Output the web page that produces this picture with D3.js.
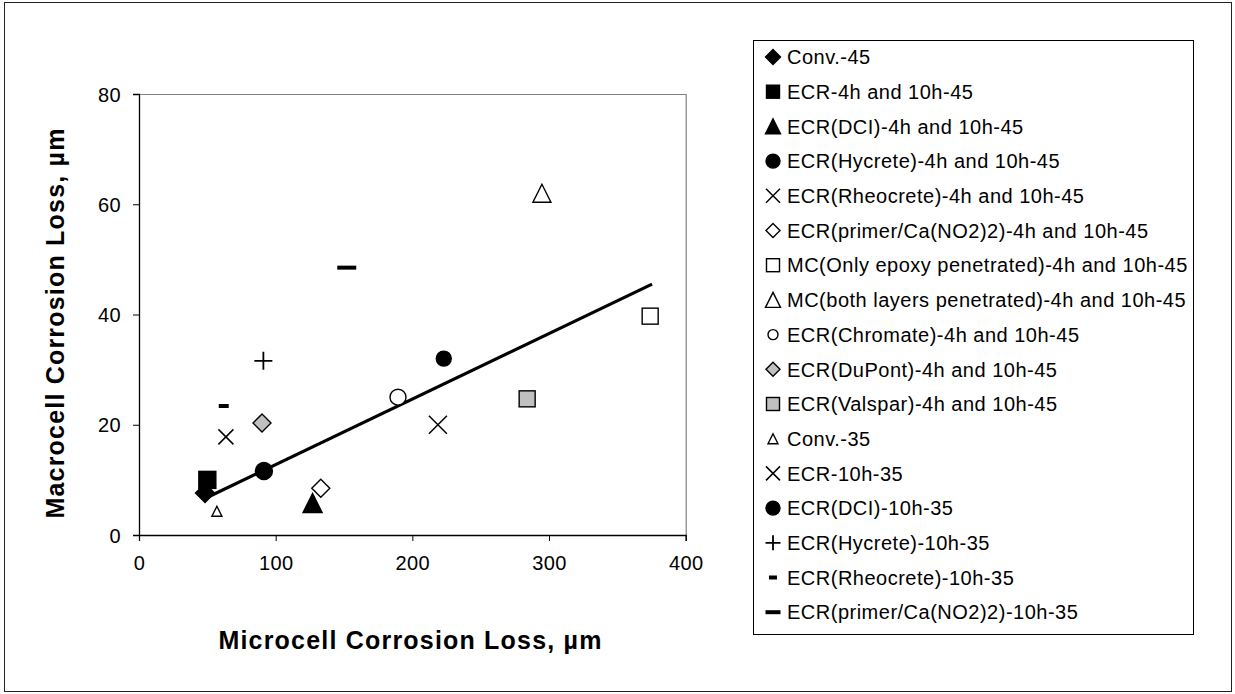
<!DOCTYPE html>
<html>
<head>
<meta charset="utf-8">
<script src="https://cdn.jsdelivr.net/npm/d3@7"></script>
<style>
  html, body { margin: 0; padding: 0; background: #fff; }
  svg { display: block; font-family: "Liberation Sans", Arial, sans-serif; }
</style>
</head>
<body>
<svg id="chart" width="1235" height="694"></svg>
<script>
// ---------- data ----------
const seriesNames = [
  "Conv.-45",
  "ECR-4h and 10h-45",
  "ECR(DCI)-4h and 10h-45",
  "ECR(Hycrete)-4h and 10h-45",
  "ECR(Rheocrete)-4h and 10h-45",
  "ECR(primer/Ca(NO2)2)-4h and 10h-45",
  "MC(Only epoxy penetrated)-4h and 10h-45",
  "MC(both layers penetrated)-4h and 10h-45",
  "ECR(Chromate)-4h and 10h-45",
  "ECR(DuPont)-4h and 10h-45",
  "ECR(Valspar)-4h and 10h-45",
  "Conv.-35",
  "ECR-10h-35",
  "ECR(DCI)-10h-35",
  "ECR(Hycrete)-10h-35",
  "ECR(Rheocrete)-10h-35",
  "ECR(primer/Ca(NO2)2)-10h-35"
];
const microcellLoss = [48.3, 50, 127, 91.4, 218.7, 133, 374, 294.8, 189.5, 90, 284, 57, 63.6, 223, 91, 62, 152];
const macrocellLoss = [7.6, 10, 5.8, 11.6, 20, 8.5, 39.7, 62, 25, 20.3, 24.7, 4.3, 17.8, 32, 31.6, 23.4, 48.5];
const trendX = [49, 375.4];
const trendY = [6.7, 45.5];
const xTicks = [0, 100, 200, 300, 400];
const yTicks = [0, 20, 40, 60, 80];
const xTitle = "Microcell Corrosion Loss, µm";
const yTitle = "Macrocell Corrosion Loss, µm";

// ---------- marker styles (shape, fill, plot size, legend size) ----------
const markerStyles = [
  {shape: "diamond",  fill: "#000",    size: 19, lsize: 15},
  {shape: "square",   fill: "#000",    size: 17, lsize: 13},
  {shape: "triangle", fill: "#000",    size: 19, lsize: 15},
  {shape: "circle",   fill: "#000",    size: 17, lsize: 14},
  {shape: "x",        fill: "none",    size: 18, lsize: 14},
  {shape: "diamond",  fill: "#fff",    size: 18, lsize: 14},
  {shape: "square",   fill: "#fff",    size: 16, lsize: 13},
  {shape: "triangle", fill: "#fff",    size: 18, lsize: 15},
  {shape: "circle",   fill: "#fff",    size: 16, lsize: 10},
  {shape: "diamond",  fill: "#c0c0c0", size: 18, lsize: 14},
  {shape: "square",   fill: "#c0c0c0", size: 16, lsize: 13},
  {shape: "triangle", fill: "#fff",    size: 10, lsize: 10},
  {shape: "x",        fill: "none",    size: 15, lsize: 14},
  {shape: "circle",   fill: "#000",    size: 15, lsize: 14},
  {shape: "plus",     fill: "none",    size: 18, lsize: 15},
  {shape: "dash",     fill: "#000",    size: 10, lsize: 8, h: 4},
  {shape: "dash",     fill: "#000",    size: 19, lsize: 15, h: 4}
];

// ---------- layout ----------
const svg = d3.select("#chart");
const plot = {left: 139, right: 685.7, top: 94, bottom: 535};

const x = d3.scaleLinear().domain([0, 400]).range([plot.left, plot.right]);
const y = d3.scaleLinear().domain([0, 80]).range([plot.bottom, plot.top]);

// outer frame
svg.append("rect")
  .attr("x", 4.5).attr("y", 2.5).attr("width", 1227).attr("height", 689)
  .attr("fill", "#fff").attr("stroke", "#222").attr("stroke-width", 1);

// plot area top/right gray border
svg.append("path")
  .attr("d", `M${plot.left},${plot.top + 0.5}H${plot.right + 0.5}V${plot.bottom}`)
  .attr("fill", "none").attr("stroke", "#808080").attr("stroke-width", 1.2);

// axes
const xAxis = d3.axisBottom(x).tickValues(xTicks).tickSize(6).tickPadding(10).tickFormat(d3.format("d"));
const yAxis = d3.axisLeft(y).tickValues(yTicks).tickSize(6).tickPadding(12).tickFormat(d3.format("d"));

const gx = svg.append("g").attr("transform", `translate(0,${plot.bottom})`).call(xAxis);
const gy = svg.append("g").attr("transform", `translate(${plot.left},0)`).call(yAxis);

[gx, gy].forEach(g => {
  g.select(".domain").attr("stroke", "#000").attr("stroke-width", 1.3);
  g.selectAll(".tick line").attr("stroke", "#000").attr("stroke-width", 1);
  g.selectAll(".tick text")
    .attr("fill", "#000")
    .style("font-family", "'Liberation Sans', Arial, sans-serif")
    .style("font-size", "20px")
    .style("letter-spacing", "0.4px");
});
gx.selectAll(".tick text").attr("dy", "0.95em");
gy.selectAll(".tick text").attr("dy", "0.35em");

// titles
svg.append("text")
  .attr("x", 410.5).attr("y", 649)
  .attr("text-anchor", "middle")
  .style("font-size", "25px").style("font-weight", "bold").style("letter-spacing", "1.2px")
  .text(xTitle);

svg.append("text")
  .attr("transform", "translate(64,323) rotate(-90)")
  .attr("text-anchor", "middle")
  .style("font-size", "25px").style("font-weight", "bold").style("letter-spacing", "1.2px")
  .text(yTitle);

// trend line
const line = d3.line().x(d => x(d[0])).y(d => y(d[1]));
svg.append("path")
  .datum(d3.zip(trendX, trendY))
  .attr("d", line)
  .attr("fill", "none").attr("stroke", "#000").attr("stroke-width", 3.2);

// marker drawer
function drawMarker(g, st, s) {
  const h = s / 2;
  const sw = 1.4;
  switch (st.shape) {
    case "diamond":
      g.append("path").attr("d", `M0,${-h}L${h},0L0,${h}L${-h},0Z`)
        .attr("fill", st.fill).attr("stroke", "#000").attr("stroke-width", sw);
      break;
    case "square":
      g.append("rect").attr("x", -h).attr("y", -h).attr("width", s).attr("height", s)
        .attr("fill", st.fill).attr("stroke", "#000").attr("stroke-width", sw);
      break;
    case "triangle":
      g.append("path").attr("d", `M0,${-h}L${h},${h}L${-h},${h}Z`)
        .attr("fill", st.fill).attr("stroke", "#000").attr("stroke-width", sw).attr("stroke-linejoin", "miter");
      break;
    case "circle":
      g.append("circle").attr("r", h)
        .attr("fill", st.fill).attr("stroke", "#000").attr("stroke-width", sw);
      break;
    case "x":
      g.append("path").attr("d", `M${-h},${-h}L${h},${h}M${h},${-h}L${-h},${h}`)
        .attr("fill", "none").attr("stroke", "#000").attr("stroke-width", 1.5);
      break;
    case "plus":
      g.append("path").attr("d", `M${-h},0L${h},0M0,${-h}L0,${h}`)
        .attr("fill", "none").attr("stroke", "#000").attr("stroke-width", 1.8);
      break;
    case "dash":
      g.append("rect").attr("x", -h).attr("y", -st.h / 2).attr("width", s).attr("height", st.h)
        .attr("fill", "#000");
      break;
  }
}

// points
const pts = svg.append("g");
seriesNames.forEach((name, i) => {
  const g = pts.append("g")
    .attr("transform", `translate(${x(microcellLoss[i])},${y(macrocellLoss[i])})`);
  drawMarker(g, markerStyles[i], markerStyles[i].size);
});

// legend
const legend = {x: 753.5, y: 40.5, w: 440, h: 594, top: 57, step: 34.7, mx: 773, tx: 787};
svg.append("rect")
  .attr("x", legend.x).attr("y", legend.y).attr("width", legend.w).attr("height", legend.h)
  .attr("fill", "#fff").attr("stroke", "#000").attr("stroke-width", 1);

seriesNames.forEach((name, i) => {
  const cy = legend.top + i * legend.step;
  const g = svg.append("g").attr("transform", `translate(${legend.mx},${cy})`);
  drawMarker(g, markerStyles[i], markerStyles[i].lsize);
  svg.append("text")
    .attr("x", legend.tx).attr("y", cy).attr("dy", "0.36em")
    .style("font-size", "20px").style("letter-spacing", "0.5px")
    .text(name);
});
</script>
</body>
</html>
